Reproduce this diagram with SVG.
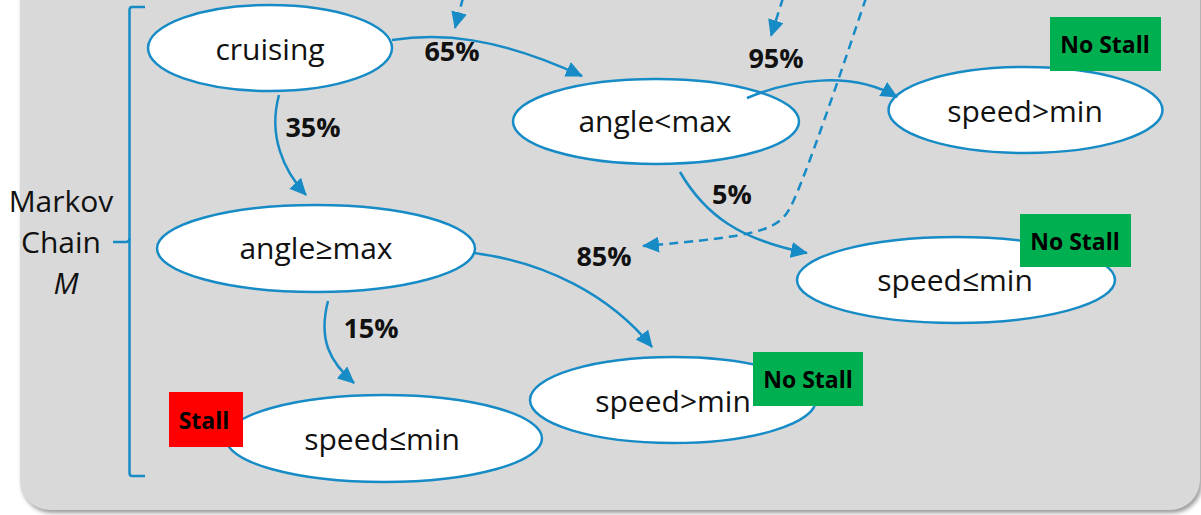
<svg xmlns="http://www.w3.org/2000/svg" width="1201" height="515" viewBox="0 0 1201 515">
<defs>
<style>
.node{fill:#ffffff;stroke:#168bc6;stroke-width:2.5}
.lbl{font-family:"Open Sans","Liberation Sans",sans-serif;font-size:30px;fill:#111;text-anchor:middle}
.pct{font-family:"Open Sans","Liberation Sans",sans-serif;font-size:27px;font-weight:bold;fill:#111;text-anchor:middle}
.tag{font-family:"Open Sans","Liberation Sans",sans-serif;font-size:23px;font-weight:bold;fill:#000;text-anchor:middle}
.edge{fill:none;stroke:#168bc6;stroke-width:2.5}
.dash{fill:none;stroke:#168bc6;stroke-width:2.5;stroke-dasharray:9 6}
.side{font-family:"Open Sans","Liberation Sans",sans-serif;font-size:30px;fill:#111;text-anchor:middle}
</style>
<marker id="ah" markerUnits="userSpaceOnUse" markerWidth="18" markerHeight="16" refX="16" refY="8" orient="auto">
<path d="M0,0 L17,8 L0,16 z" fill="#168bc6"/>
</marker>
<filter id="sh" x="-5%" y="-5%" width="110%" height="120%">
<feGaussianBlur stdDeviation="2"/>
</filter>
</defs>
<rect x="0" y="0" width="1201" height="515" fill="#ffffff"/>
<g id="panel">
<rect x="22" y="-40" width="1180" height="553" rx="30" ry="30" fill="#9a9a9a" filter="url(#sh)"/>
<rect x="20" y="-40" width="1180" height="550" rx="30" ry="30" fill="#d9d9d9"/>
</g>
<g id="bracket">
<path d="M145,7 L132,7 Q129.5,7 129.5,10 L129.5,473 Q129.5,476 132,476 L145,476" fill="none" stroke="#168bc6" stroke-width="2.5"/>
<path d="M113,242 L126,242 Q129.5,242 129.5,238" fill="none" stroke="#168bc6" stroke-width="2.5"/>
<text class="side" x="61" y="212">Markov</text>
<text class="side" x="61" y="253">Chain</text>
<text class="side" x="66" y="294" font-style="italic">M</text>
</g>
<g id="cruising">
<ellipse class="node" cx="270" cy="48" rx="122" ry="43"/>
<text class="lbl" x="270" y="60">cruising</text>
</g>
<g id="angle-lt-max">
<ellipse class="node" cx="656" cy="121.5" rx="143" ry="42.5"/>
<text class="lbl" x="655" y="132">angle&lt;max</text>
</g>
<g id="speed-gt-min-1">
<ellipse class="node" cx="1025.5" cy="110" rx="137" ry="43"/>
<text class="lbl" x="1025" y="122">speed&gt;min</text>
<rect x="1050" y="17" width="111" height="54" fill="#00b050"/>
<text class="tag" x="1105" y="53">No Stall</text>
</g>
<g id="angle-ge-max">
<ellipse class="node" cx="316" cy="248.5" rx="159" ry="43.5"/>
<text class="lbl" x="316" y="259">angle≥max</text>
</g>
<g id="speed-le-min-1">
<ellipse class="node" cx="956" cy="280" rx="159" ry="43"/>
<text class="lbl" x="955" y="291">speed≤min</text>
<rect x="1020" y="214" width="111" height="53" fill="#00b050"/>
<text class="tag" x="1075" y="250">No Stall</text>
</g>
<g id="speed-gt-min-2">
<ellipse class="node" cx="673" cy="400" rx="143" ry="43"/>
<text class="lbl" x="673" y="412">speed&gt;min</text>
<rect x="753" y="352" width="110" height="54" fill="#00b050"/>
<text class="tag" x="808" y="388">No Stall</text>
</g>
<g id="speed-le-min-2">
<ellipse class="node" cx="384" cy="438.5" rx="158" ry="43.5"/>
<text class="lbl" x="382" y="450">speed≤min</text>
<rect x="169" y="392" width="74" height="55" fill="#ff0000"/>
<text class="tag" x="204" y="429">Stall</text>
</g>
<g id="connectors">
<path class="edge" d="M392,40 C440,33 495,36 582,76" marker-end="url(#ah)"/>
<path class="edge" d="M279,95 C268,135 283,170 306,195" marker-end="url(#ah)"/>
<path class="edge" d="M747,98 C790,80 850,70 897,97" marker-end="url(#ah)"/>
<path class="edge" d="M680,172 C705,215 740,240 807,253" marker-end="url(#ah)"/>
<path class="edge" d="M474,253 C545,262 610,295 652,347" marker-end="url(#ah)"/>
<path class="edge" d="M328,301 C318,340 330,362 354,383" marker-end="url(#ah)"/>
<path class="dash" d="M463,-2 L455,28" marker-end="url(#ah)"/>
<path class="dash" d="M783,-2 L771,36" marker-end="url(#ah)"/>
<path class="dash" d="M866,-2 C845,60 805,180 790,208 C778,230 760,236 643,246" marker-end="url(#ah)"/>
<text class="pct" x="452" y="61">65%</text>
<text class="pct" x="313" y="137">35%</text>
<text class="pct" x="776" y="68">95%</text>
<text class="pct" x="732" y="204">5%</text>
<text class="pct" x="604" y="266">85%</text>
<text class="pct" x="371" y="338">15%</text>
</g>
</svg>
